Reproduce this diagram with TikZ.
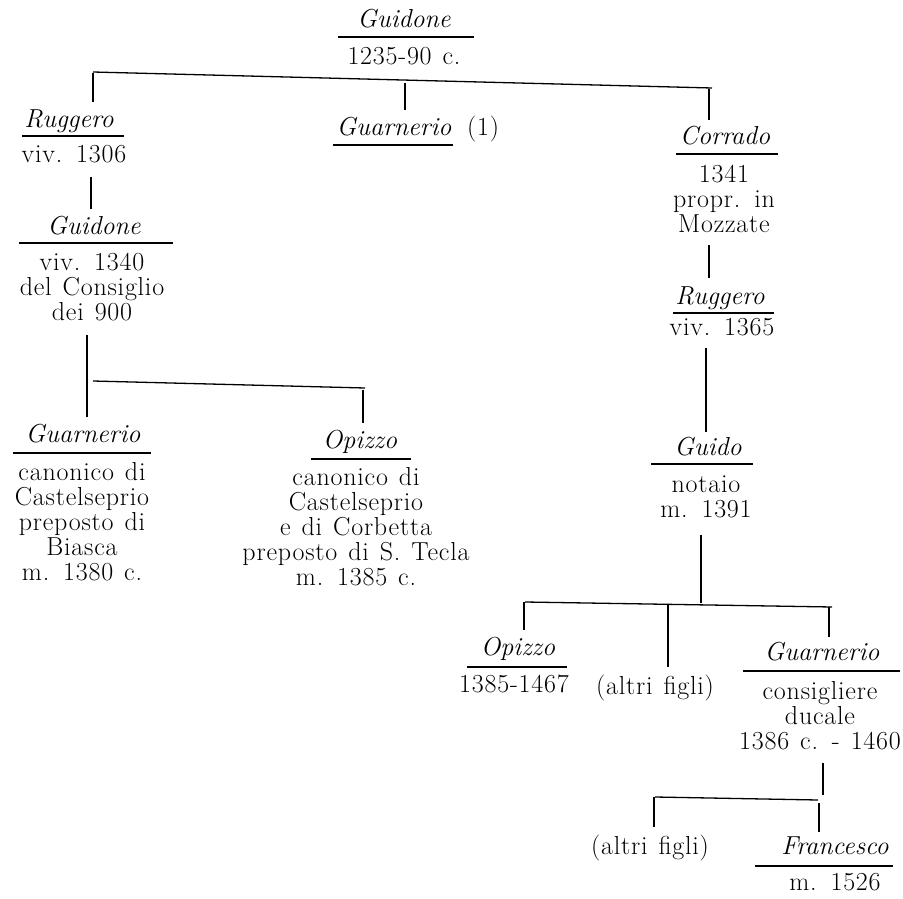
\documentclass[tikz,border=0pt]{standalone}
\usepackage{fontspec}
\newfontfamily\upf[LetterSpace=3]{Latin Modern Roman}
\newcommand\fsz{\fontsize{26}{25}\selectfont}
\newcommand\fsu{\fontsize{26}{25}\upf\spaceskip=11pt plus 3pt minus 2pt\relax}
\newcommand\hs{\rule{0pt}{20pt}}
\begin{document}
\begin{tikzpicture}[x=1pt,y=-1pt,
  txt/.style={anchor=north,inner sep=0pt,align=center,font=\fsu},
  nm/.style={anchor=north,inner sep=0pt,align=center,font=\fsz\itshape},
  ln/.style={line width=1.3pt},
  rl/.style={line width=1.3pt}]
\useasboundingbox (0,0) rectangle (903,899);

% ---------- persons ----------
\node[nm] (g0) at (404,7) {\hs Guidone};
\draw[rl] (338,37) -- (474,37);
\node[txt] (g0d) at (404,44) {\hs 1235-90 c.};

\node[nm] (r1) at (69,107) {\hs Ruggero};
\draw[rl] (22,136) -- (124,136);
\node[txt] (r1d) at (74,142) {\hs viv. 1306};

\node[nm] (g1) at (94,214) {\hs Guidone};
\draw[rl] (19,243) -- (173,243);
\node[txt] (g1d) at (92,250) {\hs viv. 1340\\del Consiglio\\dei 900};

\node[nm] (gu1) at (394,115) {\hs Guarnerio};
\node[txt] (gu1n) at (483,115) {\hs (1)};
\draw[rl] (333,145) -- (453,145);

\node[nm] (co) at (725,124) {\hs Corrado};
\draw[rl] (676,154) -- (778,154);
\node[txt] (cod) at (724,162) {\hs 1341\\propr. in\\Mozzate};

\node[nm] (r2) at (720,284) {\hs Ruggero};
\draw[rl] (673,313) -- (774,313);
\node[txt] (r2d) at (722,315) {\hs viv. 1365};

\node[nm] (gu2) at (83,422) {\hs Guarnerio};
\draw[rl] (13,453) -- (151,453);
\node[txt] (gu2d) at (82,460) {\hs canonico di\\Castelseprio\\preposto di\\Biasca\\m. 1380 c.};

\node[nm] (op1) at (360,428) {\hs Opizzo};
\draw[rl] (311,459) -- (411,459);
\node[txt] (op1d) at (356,465) {\hs canonico di\\Castelseprio\\e di Corbetta\\preposto di S. Tecla\\m. 1385 c.};

\node[nm] (gd) at (708,435) {\hs Guido};
\draw[rl] (651,464) -- (753,464);
\node[txt] (gdd) at (706,472) {\hs notaio\\m. 1391};

\node[nm] (op2) at (518,635) {\hs Opizzo};
\draw[rl] (467,667) -- (567,667);
\node[txt] (op2d) at (514,672) {\hs 1385-1467};

\node[txt] (af1) at (655,674) {\hs (altri figli)};

\node[nm] (gu3) at (822,640) {\hs Guarnerio};
\draw[rl] (743,671) -- (900,671);
\node[txt] (gu3d) at (820,679) {\hs consigliere\\ducale\\1386 c. - 1460};

\node[txt] (af2) at (650,834) {\hs (altri figli)};

\node[nm] (fr) at (835,834) {\hs Francesco};
\draw[rl] (755,866) -- (893,866);
\node[txt] (frd) at (835,870) {\hs m. 1526};

% ---------- connectors ----------
% children of Guidone (top)
\coordinate (b1a) at (93,72);  \coordinate (b1b) at (712,88);
\draw[ln] (b1a) -- (b1b);
\coordinate (d1a) at (93,73);  \coordinate (d1b) at (93,102);
\coordinate (d2a) at (405,83); \coordinate (d2b) at (405,110);
\coordinate (d3a) at (709,89); \coordinate (d3b) at (709,120);
\draw[ln] (d1a) -- (d1b);
\draw[ln] (d2a) -- (d2b);
\draw[ln] (d3a) -- (d3b);

% Ruggero -> Guidone
\coordinate (v1a) at (91,177); \coordinate (v1b) at (91,209);
\draw[ln] (v1a) -- (v1b);

% Guidone -> Guarnerio, Opizzo
\coordinate (v2a) at (87,335); \coordinate (v2b) at (87,417);
\draw[ln] (v2a) -- (v2b);
\coordinate (b2a) at (93,381); \coordinate (b2b) at (365,388);
\draw[ln] (b2a) -- (b2b);
\coordinate (v3a) at (363,390); \coordinate (v3b) at (363,423);
\draw[ln] (v3a) -- (v3b);

% Corrado -> Ruggero -> Guido
\coordinate (v4a) at (709,245); \coordinate (v4b) at (709,278);
\draw[ln] (v4a) -- (v4b);
\coordinate (v5a) at (706,348); \coordinate (v5b) at (706,432);
\draw[ln] (v5a) -- (v5b);

% Guido -> children
\coordinate (v6a) at (701,535); \coordinate (v6b) at (701,603);
\draw[ln] (v6a) -- (v6b);
\coordinate (b3a) at (525,602); \coordinate (b3b) at (832,607);
\draw[ln] (b3a) -- (b3b);
\coordinate (d4a) at (524,602); \coordinate (d4b) at (524,630);
\coordinate (d5a) at (668,605); \coordinate (d5b) at (668,667);
\coordinate (d6a) at (829,607); \coordinate (d6b) at (829,637);
\draw[ln] (d4a) -- (d4b);
\draw[ln] (d5a) -- (d5b);
\draw[ln] (d6a) -- (d6b);

% Guarnerio -> children
\coordinate (v7a) at (823,763); \coordinate (v7b) at (823,795);
\draw[ln] (v7a) -- (v7b);
\coordinate (b4a) at (655,797); \coordinate (b4b) at (818,800);
\draw[ln] (b4a) -- (b4b);
\coordinate (d7a) at (654,797); \coordinate (d7b) at (654,827);
\coordinate (d8a) at (819,803); \coordinate (d8b) at (819,832);
\draw[ln] (d7a) -- (d7b);
\draw[ln] (d8a) -- (d8b);
\end{tikzpicture}
\end{document}
